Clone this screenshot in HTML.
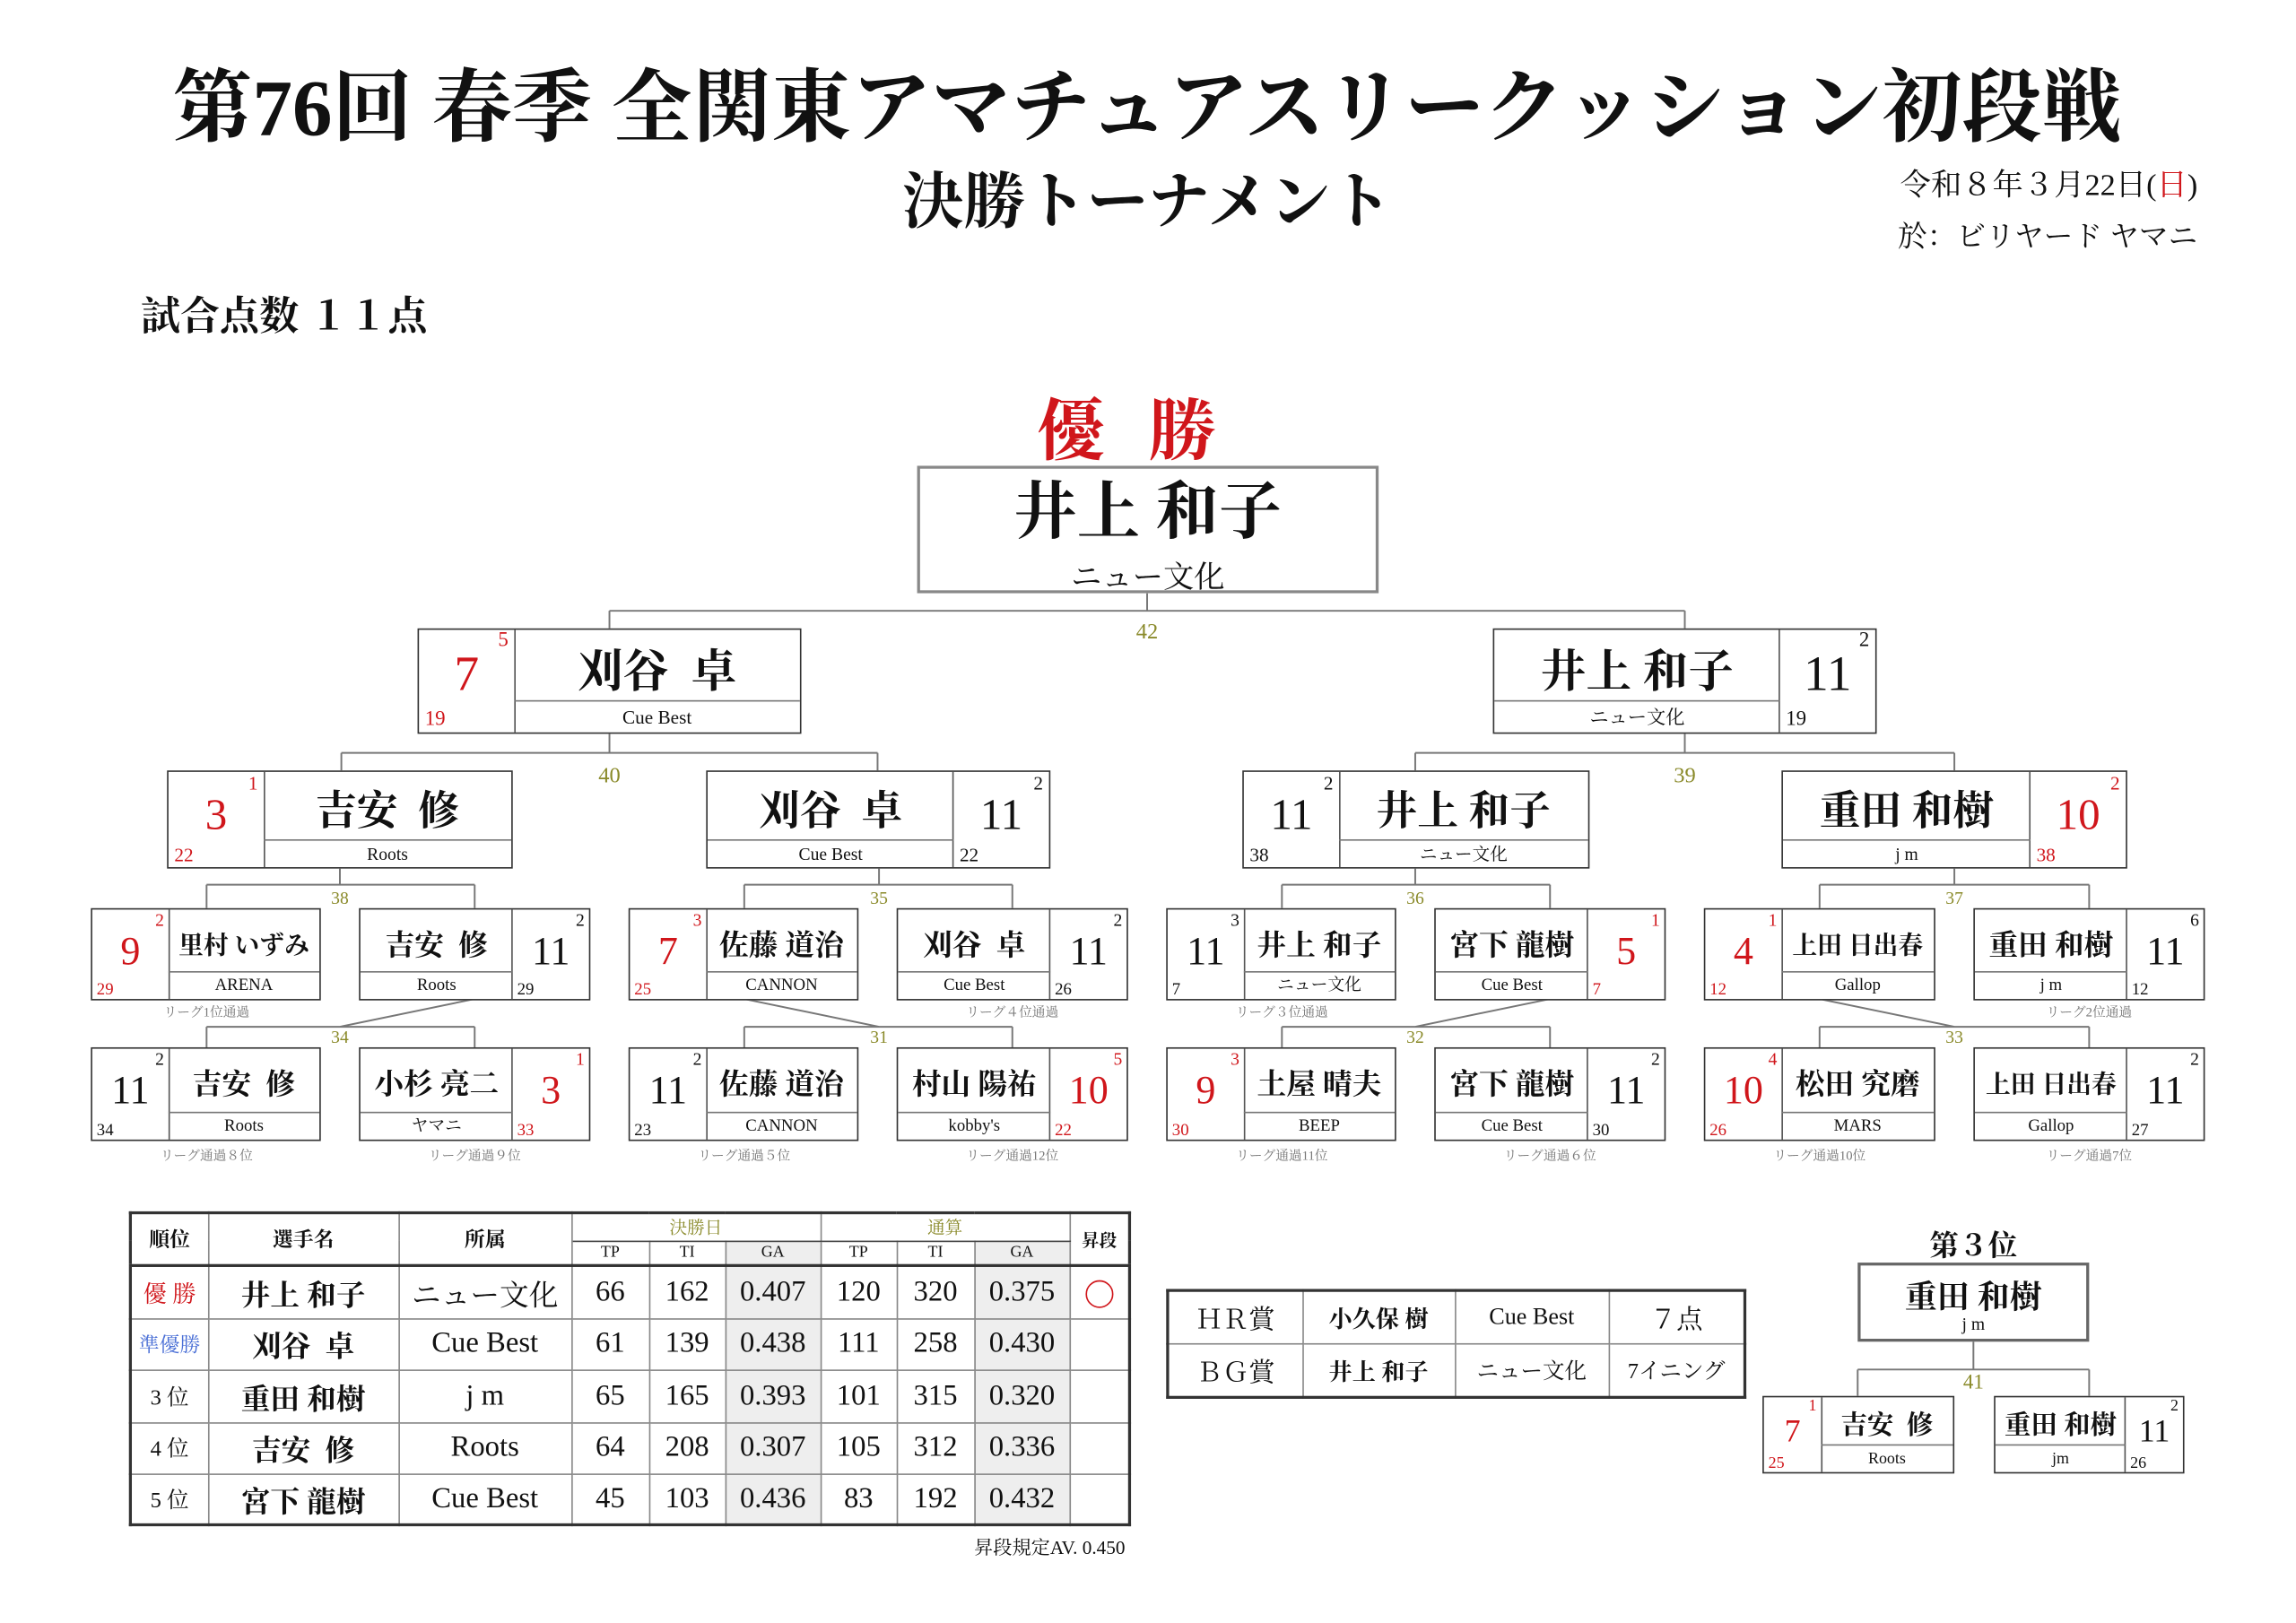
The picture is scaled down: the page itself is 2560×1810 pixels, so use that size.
<!DOCTYPE html>
<html><head><meta charset="utf-8">
<style>
html,body{margin:0;padding:0;width:2560px;height:1810px;overflow:hidden;background:#fff}
#w{position:absolute;left:0;top:0;width:1560px;height:1103px;transform:scale(1.6335);transform-origin:0 0;font-family:"Liberation Serif","Noto Serif CJK SC",serif;color:#111}
.a{position:absolute;white-space:nowrap}
.b{position:absolute;border:1.3px solid #333;box-sizing:border-box;background:#fff}
.sc{position:absolute;top:0;bottom:0}
.scL{left:0;border-right:1px solid #555}
.scR{right:0;border-left:1px solid #555}
.nm{position:absolute;top:0;display:flex;align-items:center;justify-content:center;white-space:nowrap;font-weight:bold}
.tm{position:absolute;bottom:0;border-top:1px solid #777;text-align:center;white-space:nowrap}
.big{position:absolute;left:0;right:0;text-align:center}
.sup{position:absolute;right:4px;top:0}
.bot{position:absolute;left:4px;bottom:0}
.r{color:#d0161b}
.s1{height:72px}.s1 .sc{width:65px}.s1 .nm{height:51px;font-size:31px}.s1 .tm{height:21px;line-height:21px;font-size:13px}
.s1 .big{top:14px;font-size:34px;line-height:34px}.s1 .sup{font-size:14px}.s1 .bot{font-size:14px}
.s2{height:67px}.s2 .sc{width:65px}.s2 .nm{height:49px;font-size:28px}.s2 .tm{height:18px;line-height:18px;font-size:12px}
.s2 .big{top:15px;font-size:30px;line-height:30px}.s2 .sup{font-size:13px}.s2 .bot{font-size:13px}
.s3{height:63px}.s3 .sc{width:52px}.s3 .nm{height:45px;font-size:20px}.s3 .tm{height:18px;line-height:18px;font-size:11.5px}
.s3 .big{top:15px;font-size:27px;line-height:27px}.s3 .sup{font-size:12px;right:3px}.s3 .bot{font-size:11.5px;left:3px}
.s4{height:53px}.s4 .sc{width:39px}.s4 .nm{height:35px;font-size:18px}.s4 .tm{height:18px;line-height:18px;font-size:11px}
.s4 .big{top:12px;font-size:22px;line-height:22px}.s4 .sup{font-size:11px;right:3px}.s4 .bot{font-size:11px;left:3px}
.lg{position:absolute;font-size:9px;color:#777;transform:translateX(-50%);white-space:nowrap}
table{border-collapse:collapse;position:absolute;table-layout:fixed}
td{padding:0;text-align:center;border:1px solid #888;white-space:nowrap}
#t{left:88px;top:827px;width:682px;border:2px solid #333}
#t td{font-size:20px}
#t td.n{font-weight:bold}
#t .h td{font-size:14px;font-weight:bold}
#t .h2 td{font-size:11px;font-weight:normal}
#t .g{background:#eee}
#aw{left:796px;top:880px;width:394px;border:2px solid #333}
#aw td{font-size:18px;height:35px}
</style></head><body><div id="w">

<div class="a" style="left:0;width:1566px;top:39px;text-align:center;font-size:54.5px;font-weight:bold;line-height:70px">第76回 春季 全関東アマチュアスリークッション初段戦</div>
<div class="a" style="left:0;width:1566px;top:114px;text-align:center;font-size:42px;font-weight:bold;line-height:50px">決勝トーナメント</div>
<div class="a" style="right:60px;top:110px;font-size:21px">令和８年３月22日(<span class="r">日</span>)</div>
<div class="a" style="right:60px;top:145px;font-size:20px">於：ビリヤード ヤマニ</div>
<div class="a" style="left:96px;top:194px;font-size:27px;font-weight:bold">試合点数 １１点</div>
<div class="a r" style="left:0;width:1568px;top:258px;text-align:center;font-size:46px;font-weight:bold;letter-spacing:30px">優勝</div>

<svg class="a" style="left:0;top:0" width="1560" height="1103" stroke="#777" stroke-width="1.2" fill="none">
<path d="M783,405V417M416,417H1150M416,417V429M1150,417V429"/>
<path d="M416,501V514M233,514H599M233,514V526M599,514V526"/>
<path d="M1150,501V514M966,514H1334M966,514V526M1334,514V526"/>
<path d="M232,593V604M141,604H324M141,604V620M324,604V620"/>
<path d="M600,593V604M508,604H691M508,604V620M691,604V620"/>
<path d="M966,593V604M875,604H1058M875,604V620M1058,604V620"/>
<path d="M1334,593V604M1242,604H1426M1242,604V620M1426,604V620"/>
<path d="M324,682L232,701M141,701H324M141,701V715M324,701V715"/>
<path d="M508,682L600,701M508,701H691M508,701V715M691,701V715"/>
<path d="M1058,682L966,701M875,701H1058M875,701V715M1058,701V715"/>
<path d="M1242,682L1334,701M1242,701H1426M1242,701V715M1426,701V715"/>
<path d="M1347,916V935M1268,935H1426M1268,935V953M1426,935V953"/>
<g fill="#8a8a2a" stroke="none" font-family="Liberation Serif,serif" text-anchor="middle">
<text x="783" y="436" font-size="15">42</text>
<text x="416" y="534" font-size="15">40</text>
<text x="1150" y="534" font-size="15">39</text>
<text x="232" y="617" font-size="12">38</text><text x="600" y="617" font-size="12">35</text>
<text x="966" y="617" font-size="12">36</text><text x="1334" y="617" font-size="12">37</text>
<text x="232" y="712" font-size="12">34</text><text x="600" y="712" font-size="12">31</text>
<text x="966" y="712" font-size="12">32</text><text x="1334" y="712" font-size="12">33</text>
<text x="1347" y="948" font-size="14">41</text>
</g></svg>

<div class="b" style="left:626px;top:318px;width:315px;height:87px;border:2.5px solid #888">
 <div class="a" style="left:0;right:0;top:5px;text-align:center;font-size:43px;line-height:52px;font-weight:bold">井上 和子</div>
 <div class="a" style="left:0;right:0;top:58px;text-align:center;font-size:21px">ニュー文化</div>
</div>

<div class="b s1" style="left:285px;top:429px;width:262px">
 <div class="sc scL"><div class="big r">7</div><div class="sup r">5</div><div class="bot r">19</div></div>
 <div class="nm" style="left:65px;right:0">刈谷&nbsp;&nbsp;卓</div><div class="tm" style="left:65px;right:0">Cue Best</div></div>
<div class="b s1" style="left:1019px;top:429px;width:262px">
 <div class="sc scR"><div class="big">11</div><div class="sup">2</div><div class="bot">19</div></div>
 <div class="nm" style="left:0;right:65px">井上 和子</div><div class="tm" style="left:0;right:65px">ニュー文化</div></div>

<div class="b s2" style="left:114px;top:526px;width:236px">
 <div class="sc scL"><div class="big r">3</div><div class="sup r">1</div><div class="bot r">22</div></div>
 <div class="nm" style="left:65px;right:0">吉安&nbsp;&nbsp;修</div><div class="tm" style="left:65px;right:0">Roots</div></div>
<div class="b s2" style="left:482px;top:526px;width:235px">
 <div class="sc scR"><div class="big">11</div><div class="sup">2</div><div class="bot">22</div></div>
 <div class="nm" style="left:0;right:65px">刈谷&nbsp;&nbsp;卓</div><div class="tm" style="left:0;right:65px">Cue Best</div></div>
<div class="b s2" style="left:848px;top:526px;width:237px">
 <div class="sc scL"><div class="big">11</div><div class="sup">2</div><div class="bot">38</div></div>
 <div class="nm" style="left:65px;right:0">井上 和子</div><div class="tm" style="left:65px;right:0">ニュー文化</div></div>
<div class="b s2" style="left:1216px;top:526px;width:236px">
 <div class="sc scR"><div class="big r">10</div><div class="sup r">2</div><div class="bot r">38</div></div>
 <div class="nm" style="left:0;right:65px">重田 和樹</div><div class="tm" style="left:0;right:65px">j m</div></div>

<div class="b s3" style="left:62px;top:620px;width:157px">
 <div class="sc scL"><div class="big r">9</div><div class="sup r">2</div><div class="bot r">29</div></div>
 <div class="nm" style="left:52px;right:0;font-size:17px">里村 いずみ</div><div class="tm" style="left:52px;right:0">ARENA</div></div>
<div class="b s3" style="left:245px;top:620px;width:158px">
 <div class="sc scR"><div class="big">11</div><div class="sup">2</div><div class="bot">29</div></div>
 <div class="nm" style="left:0;right:52px">吉安&nbsp;&nbsp;修</div><div class="tm" style="left:0;right:52px">Roots</div></div>
<div class="b s3" style="left:429px;top:620px;width:157px">
 <div class="sc scL"><div class="big r">7</div><div class="sup r">3</div><div class="bot r">25</div></div>
 <div class="nm" style="left:52px;right:0">佐藤 道治</div><div class="tm" style="left:52px;right:0">CANNON</div></div>
<div class="b s3" style="left:612px;top:620px;width:158px">
 <div class="sc scR"><div class="big">11</div><div class="sup">2</div><div class="bot">26</div></div>
 <div class="nm" style="left:0;right:52px">刈谷&nbsp;&nbsp;卓</div><div class="tm" style="left:0;right:52px">Cue Best</div></div>
<div class="b s3" style="left:796px;top:620px;width:157px">
 <div class="sc scL"><div class="big">11</div><div class="sup">3</div><div class="bot">7</div></div>
 <div class="nm" style="left:52px;right:0">井上 和子</div><div class="tm" style="left:52px;right:0">ニュー文化</div></div>
<div class="b s3" style="left:979px;top:620px;width:158px">
 <div class="sc scR"><div class="big r">5</div><div class="sup r">1</div><div class="bot r">7</div></div>
 <div class="nm" style="left:0;right:52px">宮下 龍樹</div><div class="tm" style="left:0;right:52px">Cue Best</div></div>
<div class="b s3" style="left:1163px;top:620px;width:158px">
 <div class="sc scL"><div class="big r">4</div><div class="sup r">1</div><div class="bot r">12</div></div>
 <div class="nm" style="left:52px;right:0;font-size:17px">上田 日出春</div><div class="tm" style="left:52px;right:0">Gallop</div></div>
<div class="b s3" style="left:1347px;top:620px;width:158px">
 <div class="sc scR"><div class="big">11</div><div class="sup">6</div><div class="bot">12</div></div>
 <div class="nm" style="left:0;right:52px">重田 和樹</div><div class="tm" style="left:0;right:52px">j m</div></div>

<div class="lg" style="left:141px;top:684px">リーグ1位通過</div>
<div class="lg" style="left:691px;top:684px">リーグ４位通過</div>
<div class="lg" style="left:875px;top:684px">リーグ３位通過</div>
<div class="lg" style="left:1426px;top:684px">リーグ2位通過</div>

<div class="b s3" style="left:62px;top:715px;width:157px;height:64px">
 <div class="sc scL"><div class="big">11</div><div class="sup">2</div><div class="bot">34</div></div>
 <div class="nm" style="left:52px;right:0">吉安&nbsp;&nbsp;修</div><div class="tm" style="left:52px;right:0">Roots</div></div>
<div class="b s3" style="left:245px;top:715px;width:158px;height:64px">
 <div class="sc scR"><div class="big r">3</div><div class="sup r">1</div><div class="bot r">33</div></div>
 <div class="nm" style="left:0;right:52px">小杉 亮二</div><div class="tm" style="left:0;right:52px">ヤマニ</div></div>
<div class="b s3" style="left:429px;top:715px;width:157px;height:64px">
 <div class="sc scL"><div class="big">11</div><div class="sup">2</div><div class="bot">23</div></div>
 <div class="nm" style="left:52px;right:0">佐藤 道治</div><div class="tm" style="left:52px;right:0">CANNON</div></div>
<div class="b s3" style="left:612px;top:715px;width:158px;height:64px">
 <div class="sc scR"><div class="big r">10</div><div class="sup r">5</div><div class="bot r">22</div></div>
 <div class="nm" style="left:0;right:52px">村山 陽祐</div><div class="tm" style="left:0;right:52px">kobby's</div></div>
<div class="b s3" style="left:796px;top:715px;width:157px;height:64px">
 <div class="sc scL"><div class="big r">9</div><div class="sup r">3</div><div class="bot r">30</div></div>
 <div class="nm" style="left:52px;right:0">土屋 晴夫</div><div class="tm" style="left:52px;right:0">BEEP</div></div>
<div class="b s3" style="left:979px;top:715px;width:158px;height:64px">
 <div class="sc scR"><div class="big">11</div><div class="sup">2</div><div class="bot">30</div></div>
 <div class="nm" style="left:0;right:52px">宮下 龍樹</div><div class="tm" style="left:0;right:52px">Cue Best</div></div>
<div class="b s3" style="left:1163px;top:715px;width:158px;height:64px">
 <div class="sc scL"><div class="big r">10</div><div class="sup r">4</div><div class="bot r">26</div></div>
 <div class="nm" style="left:52px;right:0">松田 究磨</div><div class="tm" style="left:52px;right:0">MARS</div></div>
<div class="b s3" style="left:1347px;top:715px;width:158px;height:64px">
 <div class="sc scR"><div class="big">11</div><div class="sup">2</div><div class="bot">27</div></div>
 <div class="nm" style="left:0;right:52px;font-size:17px">上田 日出春</div><div class="tm" style="left:0;right:52px">Gallop</div></div>

<div class="lg" style="left:141px;top:782px">リーグ通過８位</div>
<div class="lg" style="left:324px;top:782px">リーグ通過９位</div>
<div class="lg" style="left:508px;top:782px">リーグ通過５位</div>
<div class="lg" style="left:691px;top:782px">リーグ通過12位</div>
<div class="lg" style="left:875px;top:782px">リーグ通過11位</div>
<div class="lg" style="left:1058px;top:782px">リーグ通過６位</div>
<div class="lg" style="left:1242px;top:782px">リーグ通過10位</div>
<div class="lg" style="left:1426px;top:782px">リーグ通過7位</div>

<table id="t">
<colgroup><col style="width:53px"><col style="width:130px"><col style="width:118px"><col style="width:53px"><col style="width:52px"><col style="width:65px"><col style="width:52px"><col style="width:53px"><col style="width:65px"><col style="width:41px"></colgroup>
<tr class="h" style="height:19px"><td rowspan="2">順位</td><td rowspan="2">選手名</td><td rowspan="2">所属</td><td colspan="3" style="color:#8a8a2a;font-size:12px;font-weight:normal;border-bottom:1.5px solid #444">決勝日</td><td colspan="3" style="color:#8a8a2a;font-size:12px;font-weight:normal;border-bottom:1.5px solid #444">通算</td><td rowspan="2" style="font-size:12px">昇段</td></tr>
<tr class="h2" style="height:17px"><td>TP</td><td>TI</td><td class="g">GA</td><td>TP</td><td>TI</td><td class="g">GA</td></tr>
<tr style="height:36px;border-top:2px solid #333"><td class="r" style="font-size:16px">優 勝</td><td class="n">井上 和子</td><td>ニュー文化</td><td>66</td><td>162</td><td class="g">0.407</td><td>120</td><td>320</td><td class="g">0.375</td><td><span style="display:inline-block;width:17px;height:17px;border:1.5px solid #d0161b;border-radius:50%;vertical-align:middle"></span></td></tr>
<tr style="height:35px"><td style="font-size:14px;color:#4a6fd6">準優勝</td><td class="n">刈谷&nbsp;&nbsp;卓</td><td>Cue Best</td><td>61</td><td>139</td><td class="g">0.438</td><td>111</td><td>258</td><td class="g">0.430</td><td></td></tr>
<tr style="height:36px"><td style="font-size:15px">3 位</td><td class="n">重田 和樹</td><td>j m</td><td>65</td><td>165</td><td class="g">0.393</td><td>101</td><td>315</td><td class="g">0.320</td><td></td></tr>
<tr style="height:35px"><td style="font-size:15px">4 位</td><td class="n">吉安&nbsp;&nbsp;修</td><td>Roots</td><td>64</td><td>208</td><td class="g">0.307</td><td>105</td><td>312</td><td class="g">0.336</td><td></td></tr>
<tr style="height:35px"><td style="font-size:15px">5 位</td><td class="n">宮下 龍樹</td><td>Cue Best</td><td>45</td><td>103</td><td class="g">0.436</td><td>83</td><td>192</td><td class="g">0.432</td><td></td></tr>
</table>
<div class="a" style="right:792px;top:1046px;font-size:13px">昇段規定AV. 0.450</div>

<table id="aw">
<colgroup><col style="width:92px"><col style="width:104px"><col style="width:105px"><col style="width:93px"></colgroup>
<tr><td>ＨＲ賞</td><td style="font-size:16px;font-weight:bold">小久保 樹</td><td style="font-size:16px">Cue Best</td><td>７点</td></tr>
<tr><td>ＢＧ賞</td><td style="font-size:16px;font-weight:bold">井上 和子</td><td style="font-size:15px">ニュー文化</td><td style="font-size:15px">7イニング</td></tr>
</table>

<div class="a" style="left:1268px;width:158px;top:834px;text-align:center;font-size:20px;font-weight:bold">第３位</div>
<div class="b" style="left:1268px;top:862px;width:158px;height:54px;border:2.5px double #666">
 <div class="a" style="left:0;right:0;top:5px;text-align:center;font-size:22px;font-weight:bold">重田 和樹</div>
 <div class="a" style="left:0;right:0;top:33px;text-align:center;font-size:12px">j m</div>
</div>
<div class="b s4" style="left:1203px;top:953px;width:131px">
 <div class="sc scL"><div class="big r">7</div><div class="sup r">1</div><div class="bot r">25</div></div>
 <div class="nm" style="left:39px;right:0">吉安&nbsp;&nbsp;修</div><div class="tm" style="left:39px;right:0">Roots</div></div>
<div class="b s4" style="left:1361px;top:953px;width:130px">
 <div class="sc scR"><div class="big">11</div><div class="sup">2</div><div class="bot">26</div></div>
 <div class="nm" style="left:0;right:39px">重田 和樹</div><div class="tm" style="left:0;right:39px">jm</div></div>

</div></body></html>
